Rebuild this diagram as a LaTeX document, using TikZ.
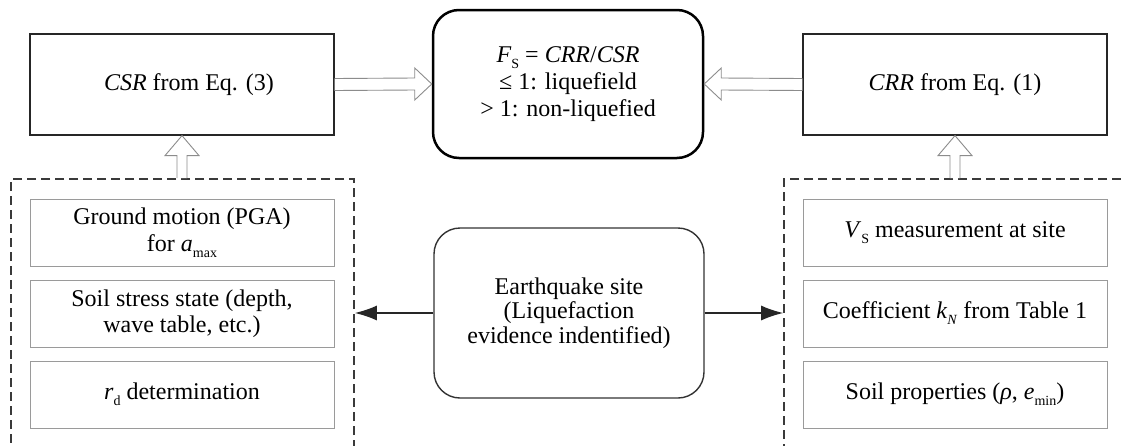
\documentclass[tikz,border=0pt]{standalone}
\usepackage{fontspec}
\setmainfont{Liberation Serif}
\usetikzlibrary{arrows.meta}
\usetikzlibrary{calc}
\definecolor{boxgray}{HTML}{9A9A9A}
\definecolor{dashgray}{HTML}{3A3A3A}
\definecolor{hollowgray}{HTML}{8C8C8C}
\newcommand{\lowsub}[1]{\raisebox{-0.55ex}{\fontsize{14}{14}\selectfont #1}}

\begin{document}
\begin{tikzpicture}[x=1pt,y=-1pt,line join=miter,
  every node/.style={font=\fontsize{24}{24.5}\selectfont,align=center,inner sep=0pt},
  mainbox/.style={draw=black!85,line width=1.2pt,minimum width=304pt,minimum height=101pt},
  roundbox/.style={draw=black!80,line width=1.4pt,rounded corners=26pt,minimum width=270pt},
  itembox/.style={draw=boxgray,line width=1pt,minimum width=304pt,minimum height=67pt},
  groupbox/.style={draw=dashgray,line width=1.6pt,dash pattern=on 9pt off 5pt,minimum height=291pt},
  hollow/.style={draw=hollowgray,fill=white,line width=0.9pt},
  solidarrow/.style={-{Latex[length=22pt,width=15pt]},line width=1.4pt,draw=black!85}]
\clip (0,0) rectangle (1121,445);
\fill[white] (0,0) rectangle (1121,445);
% dashed input groups
\node[groupbox,minimum width=343pt] (lgrp) at (182.5,324.5) {};
\node[groupbox,minimum width=366pt] (rgrp) at (967,324.5) {};
% top row
\node[mainbox] (csr) at (182,84.5) {\hspace*{14pt}\textit{CSR} from Eq. (3)};
\node[mainbox] (crr) at (955,84.5) {\textit{CRR} from Eq. (1)};
\node[roundbox,draw=black,line width=2.5pt,minimum height=148pt,
  font=\fontsize{24}{27}\selectfont] (fs) at (568,84)
  {\textit{F}\lowsub{S} = \textit{CRR}/\textit{CSR}\\ ≤ 1: liquefield\\ > 1: non-liquefied};
% earthquake site
\node[roundbox,minimum height=170pt] (site) at (569,313)
  {Earthquake site\\ (Liquefaction\\ evidence indentified)};
% left items
\node[itembox,font=\fontsize{24}{27}\selectfont] (pga) at (182,232.5)
  {Ground motion (PGA)\\ for \textit{a}\lowsub{max}};
\node[itembox,font=\fontsize{24}{26.5}\selectfont] (stress) at (182,313.5)
  {Soil stress state (depth,\\ wave table, etc.)};
\node[itembox] (rd) at (182,394.5) {\textit{r}\lowsub{d} determination};
% right items
\node[itembox] (vs) at (955,232.5) {\textit{V}\lowsub{S} measurement at site};
\node[itembox] (kn) at (955,313.5) {Coefficient \textit{k}\lowsub{\textit{N}} from Table 1};
\node[itembox] (soil) at (955,394.5) {Soil properties (\textit{ρ}, \textit{e}\lowsub{min})};
% hollow arrows
\draw[hollow] ($(csr.east)+(0,-6)$) -- ($(fs.west)+(-17,-6)$) -- ($(fs.west)+(-17,-16)$) -- (fs.west)
  -- ($(fs.west)+(-17,16)$) -- ($(fs.west)+(-17,6)$) -- ($(csr.east)+(0,6)$);
\draw[hollow] ($(crr.west)+(0,-6)$) -- ($(fs.east)+(17,-6)$) -- ($(fs.east)+(17,-16)$) -- (fs.east)
  -- ($(fs.east)+(17,16)$) -- ($(fs.east)+(17,6)$) -- ($(crr.west)+(0,6)$);
\coordinate (ltop) at (csr.south |- lgrp.north);
\draw[hollow] ($(ltop)+(-5,0)$) -- ($(csr.south)+(-5,20)$) -- ($(csr.south)+(-17,20)$) -- (csr.south)
  -- ($(csr.south)+(17,20)$) -- ($(csr.south)+(5,20)$) -- ($(ltop)+(5,0)$);
\coordinate (rtop) at (crr.south |- rgrp.north);
\draw[hollow] ($(rtop)+(-5,0)$) -- ($(crr.south)+(-5,20)$) -- ($(crr.south)+(-17,20)$) -- (crr.south)
  -- ($(crr.south)+(17,20)$) -- ($(crr.south)+(5,20)$) -- ($(rtop)+(5,0)$);
% site to groups
\draw[solidarrow] (site.west) -- (site.west -| lgrp.east);
\draw[solidarrow] (site.east) -- (site.east -| rgrp.west);
\end{tikzpicture}
\end{document}
